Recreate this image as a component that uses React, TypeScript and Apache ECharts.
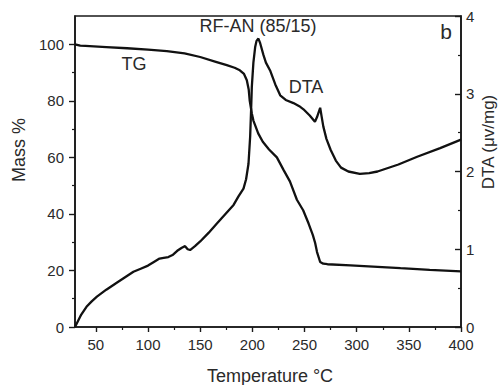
import React, { useEffect, useRef } from "react";
import * as echarts from "echarts";

// TG curve (Mass %)
const tgTemp = [30, 35, 40, 60, 80, 100, 118, 135, 150, 165, 175.5, 183, 188, 192, 194.7, 196.5, 197.5, 199.5, 201, 205.6, 210, 216, 223.5, 230, 236, 242.7, 248.7, 254, 258, 260.2, 262, 265, 268, 272, 294, 320, 342, 370, 400];
const tgMass = [100, 99.5, 99.4, 99, 98.6, 98.1, 97.6, 96.8, 95.5, 93.8, 92.6, 91.7, 90.8, 89.5, 87.3, 84, 80, 75.5, 73, 68.5, 65.5, 62.8, 60, 55.5, 51.5, 45, 41.3, 36.5, 32.5, 29.7, 26.5, 23, 22.4, 22.2, 21.8, 21.3, 20.8, 20.2, 19.7];

// DTA curve (µv/mg)
const dtaTemp = [30, 33, 36, 41, 46, 51, 60, 70, 78, 86, 93, 100, 106, 111, 115, 119.5, 124, 128, 132.4, 135.5, 138, 140.3, 145, 150, 158, 166, 174, 182, 186.7, 191.5, 194, 196.3, 197.9, 198.8, 199.5, 201, 202.7, 204, 205.8, 207.5, 210.6, 213, 217, 222, 226.7, 232, 239.4, 245, 249, 255, 260, 262, 265, 266.5, 268, 271, 275, 280, 285, 292, 303, 312, 320, 340, 358, 380, 400];
const dtaValue = [0, 0.08, 0.16, 0.26, 0.33, 0.39, 0.48, 0.57, 0.64, 0.71, 0.75, 0.79, 0.84, 0.88, 0.89, 0.9, 0.93, 0.98, 1.02, 1.04, 1.0, 0.99, 1.04, 1.1, 1.21, 1.33, 1.45, 1.57, 1.68, 1.78, 1.9, 2.1, 2.45, 2.79, 3.09, 3.4, 3.6, 3.68, 3.71, 3.65, 3.5, 3.4, 3.3, 3.12, 2.98, 2.92, 2.88, 2.84, 2.8, 2.72, 2.64, 2.7, 2.82, 2.7, 2.58, 2.42, 2.28, 2.14, 2.05, 2.0, 1.97, 1.98, 2.0, 2.09, 2.19, 2.3, 2.41];

// Tick values / labels
const xMajorTicks = [50, 100, 150, 200, 250, 300, 350, 400];
const xMinorTicks = [75, 125, 175, 225, 275, 325, 375];
const massMajorTicks = [0, 20, 40, 60, 80, 100];
const massMinorTicks = [10, 30, 50, 70, 90];
const dtaMajorTicks = [0, 1, 2, 3, 4];
const dtaMinorTicks = [0.5, 1.5, 2.5, 3.5];

const FONT = "'Liberation Sans', Arial, sans-serif";
const AXIS_COLOR = "#1a1a1a";
const TEXT_COLOR = "#2a2a2a";

export default function App() {
  const ref = useRef<HTMLDivElement>(null);

  useEffect(() => {
    if (!ref.current) return;
    const chart = echarts.init(ref.current, undefined, { renderer: "svg" });

    const tgData = tgTemp.map((t, i) => [t, tgMass[i]]);
    const dtaData = dtaTemp.map((t, i) => [t, dtaValue[i]]);

    const axisLine = { show: true, lineStyle: { color: AXIS_COLOR, width: 1.6 } };
    const labelStyle = { color: TEXT_COLOR, fontSize: 15, fontFamily: FONT };

    chart.setOption({
      animation: false,
      backgroundColor: "#ffffff",
      grid: {
        left: 75,
        right: 41,
        top: 16,
        bottom: 58,
        show: true,
        borderColor: AXIS_COLOR,
        borderWidth: 1.6,
        backgroundColor: "transparent",
      },
      xAxis: [
        {
          type: "value",
          min: 30,
          max: 400,
          position: "bottom",
          axisLine,
          splitLine: { show: false },
          axisTick: {
            show: true,
            inside: false,
            length: 5,
            customValues: xMajorTicks,
            lineStyle: { color: AXIS_COLOR, width: 1.4 },
          },
          axisLabel: { ...labelStyle, margin: 10, customValues: xMajorTicks },
        },
        {
          type: "value",
          min: 30,
          max: 400,
          position: "bottom",
          axisLine: { show: false },
          splitLine: { show: false },
          axisTick: {
            show: true,
            inside: false,
            length: 3,
            customValues: xMinorTicks,
            lineStyle: { color: AXIS_COLOR, width: 1.2 },
          },
          axisLabel: { show: false },
        },
      ],
      yAxis: [
        {
          type: "value",
          min: 0,
          max: 110,
          position: "left",
          axisLine,
          splitLine: { show: false },
          axisTick: {
            show: true,
            inside: false,
            length: 6,
            customValues: massMajorTicks,
            lineStyle: { color: AXIS_COLOR, width: 1.4 },
          },
          axisLabel: { ...labelStyle, margin: 11, customValues: massMajorTicks },
        },
        {
          type: "value",
          min: 0,
          max: 4,
          position: "right",
          axisLine,
          splitLine: { show: false },
          axisTick: {
            show: true,
            inside: true,
            length: 6,
            customValues: dtaMajorTicks,
            lineStyle: { color: AXIS_COLOR, width: 1.4 },
          },
          minorTick: { show: false },
          axisLabel: { ...labelStyle, margin: 5, customValues: dtaMajorTicks },
        },
        {
          type: "value",
          min: 0,
          max: 110,
          position: "left",
          axisLine: { show: false },
          splitLine: { show: false },
          axisTick: {
            show: true,
            inside: false,
            length: 3,
            customValues: massMinorTicks,
            lineStyle: { color: AXIS_COLOR, width: 1.2 },
          },
          axisLabel: { show: false },
        },
        {
          type: "value",
          min: 0,
          max: 4,
          position: "right",
          axisLine: { show: false },
          splitLine: { show: false },
          axisTick: {
            show: true,
            inside: true,
            length: 3,
            customValues: dtaMinorTicks,
            lineStyle: { color: AXIS_COLOR, width: 1.2 },
          },
          axisLabel: { show: false },
        },
      ],
      series: [
        {
          name: "TG",
          type: "line",
          xAxisIndex: 0,
          yAxisIndex: 0,
          data: tgData,
          symbol: "none",
          smooth: false,
          lineStyle: { color: "#111111", width: 2.3 },
        },
        {
          name: "DTA",
          type: "line",
          xAxisIndex: 0,
          yAxisIndex: 1,
          data: dtaData,
          symbol: "none",
          smooth: false,
          lineStyle: { color: "#111111", width: 2.3 },
        },
      ],
      graphic: [
        {
          type: "text",
          x: 258,
          y: 26,
          style: { text: "RF-AN (85/15)", fontSize: 18, fontFamily: FONT, fill: TEXT_COLOR, align: "center", verticalAlign: "middle" },
        },
        {
          type: "text",
          x: 134,
          y: 64,
          style: { text: "TG", fontSize: 18, fontFamily: FONT, fill: TEXT_COLOR, align: "center", verticalAlign: "middle" },
        },
        {
          type: "text",
          x: 306,
          y: 87,
          style: { text: "DTA", fontSize: 18, fontFamily: FONT, fill: TEXT_COLOR, align: "center", verticalAlign: "middle" },
        },
        {
          type: "text",
          x: 446,
          y: 31,
          style: { text: "b", fontSize: 21, fontFamily: FONT, fill: TEXT_COLOR, align: "center", verticalAlign: "middle" },
        },
        {
          type: "text",
          x: 19,
          y: 150,
          rotation: Math.PI / 2,
          style: { text: "Mass %", fontSize: 18, fontFamily: FONT, fill: TEXT_COLOR, align: "center", verticalAlign: "middle" },
        },
        {
          type: "text",
          x: 488,
          y: 142,
          rotation: Math.PI / 2,
          style: { text: "DTA (\u03bcv/mg)", fontSize: 17, fontFamily: FONT, fill: TEXT_COLOR, align: "center", verticalAlign: "middle" },
        },
        {
          type: "text",
          x: 270,
          y: 376,
          style: { text: "Temperature \u00b0C", fontSize: 18, fontFamily: FONT, fill: TEXT_COLOR, align: "center", verticalAlign: "middle" },
        },
      ],
    });

    return () => {
      chart.dispose();
    };
  }, []);

  return (
    <div
      ref={ref}
      style={{ position: "fixed", left: 0, top: 0, width: 502, height: 385, background: "#ffffff" }}
    />
  );
}
